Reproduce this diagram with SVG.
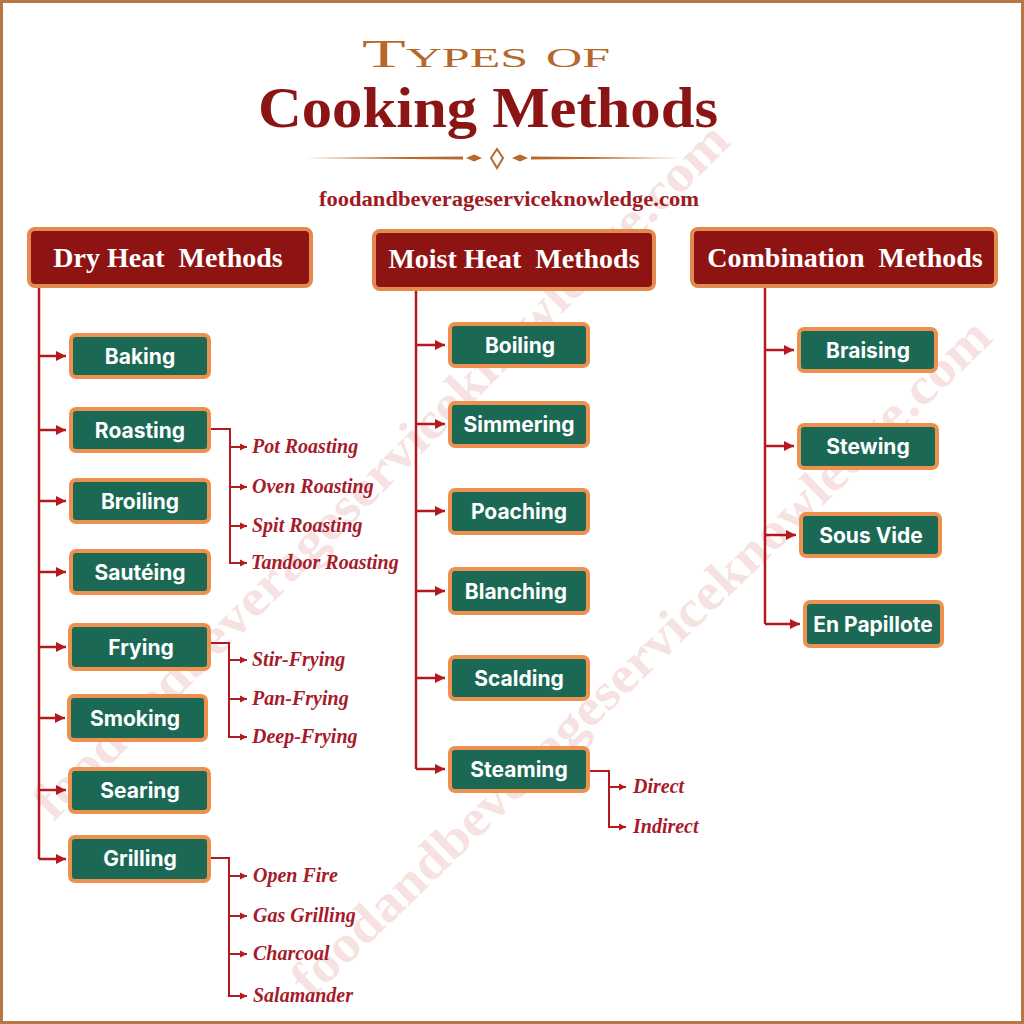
<svg xmlns="http://www.w3.org/2000/svg" width="1024" height="1024" viewBox="0 0 1024 1024">
<defs>
<style>
.hdr rect{fill:#8e1414;stroke:#e38a4f;stroke-width:4}
.hdr text{fill:#fff;font-family:"Liberation Serif",serif;font-weight:bold;font-size:28px;text-anchor:middle;white-space:pre}
.box rect{fill:#1b6955;stroke:#ec9150;stroke-width:4}
.box text{fill:#fff;font-family:Inter,"Open Sans",sans-serif;font-weight:700;font-size:21px;text-anchor:middle}
.sub{fill:#a61b2b;font-family:"Liberation Serif",serif;font-style:italic;font-weight:bold;font-size:20px}
.ln{stroke:#b3191f;stroke-width:2.5;fill:none}
.sl{stroke:#b3191f;stroke-width:2;fill:none}
.wm{fill:#e8a0a0;opacity:0.3;font-family:"Liberation Serif",serif;font-weight:bold;font-size:52px;text-anchor:middle}
</style>
<marker id="ah" markerUnits="userSpaceOnUse" markerWidth="12" markerHeight="12" refX="10" refY="6" orient="auto"><path d="M0,1 L10,6 L0,11 z" fill="#b3191f"/></marker>
<marker id="as" markerUnits="userSpaceOnUse" markerWidth="8" markerHeight="8" refX="7" refY="4" orient="auto"><path d="M0,0.5 L7,4 L0,7.5 z" fill="#b3191f"/></marker>
</defs>
<rect x="0" y="0" width="1024" height="1024" fill="#fff"/>
<g id="watermark">
<text class="wm" x="380" y="488" transform="rotate(-45 380 470)" textLength="960" lengthAdjust="spacingAndGlyphs">foodandbeverageserviceknowledge.com</text>
<text class="wm" x="640" y="675" transform="rotate(-44 640 657)" textLength="950" lengthAdjust="spacingAndGlyphs">foodandbeverageserviceknowledge.com</text>
</g>
<rect x="1.5" y="1.5" width="1021" height="1021" fill="none" stroke="#b57744" stroke-width="3"/>
<g id="title">
<text x="486" y="67" text-anchor="middle" font-family="'Liberation Serif',serif" font-size="40" font-variant="small-caps" fill="#b5682c" textLength="248" lengthAdjust="spacingAndGlyphs">Types of</text>
<text x="488" y="127" text-anchor="middle" font-family="'Liberation Serif',serif" font-weight="bold" font-size="57" fill="#8b1515" textLength="460" lengthAdjust="spacingAndGlyphs">Cooking Methods</text>
<g fill="#b8692b">
<path d="M305,158 L463,156.5 L463,159.5 Z"/>
<path d="M466,158 L474,154.5 L482,158 L474,161.5 Z"/>
<path d="M497,149 L503,158 L497,168 L491,158 Z" fill="none" stroke="#b8692b" stroke-width="2"/>
<path d="M512,158 L520,154.5 L528,158 L520,161.5 Z"/>
<path d="M531,156.5 L680,158 L531,159.5 Z"/>
</g>
<text x="509" y="206" text-anchor="middle" font-family="'Liberation Serif',serif" font-weight="bold" font-size="20" fill="#a01a1f" textLength="380" lengthAdjust="spacingAndGlyphs">foodandbeverageserviceknowledge.com</text>
</g>
<g id="connectors">
<path class="ln" d="M39,288 V859"/>
<path class="ln" d="M39,356 H66" marker-end="url(#ah)"/>
<path class="ln" d="M39,430 H66" marker-end="url(#ah)"/>
<path class="ln" d="M39,501 H66" marker-end="url(#ah)"/>
<path class="ln" d="M39,572 H66" marker-end="url(#ah)"/>
<path class="ln" d="M39,647 H66" marker-end="url(#ah)"/>
<path class="ln" d="M39,718 H65" marker-end="url(#ah)"/>
<path class="ln" d="M39,790 H66" marker-end="url(#ah)"/>
<path class="ln" d="M39,859 H66" marker-end="url(#ah)"/>
<path class="ln" d="M416,290 V769"/>
<path class="ln" d="M416,345 H445" marker-end="url(#ah)"/>
<path class="ln" d="M416,424 H445" marker-end="url(#ah)"/>
<path class="ln" d="M416,511 H445" marker-end="url(#ah)"/>
<path class="ln" d="M416,591 H445" marker-end="url(#ah)"/>
<path class="ln" d="M416,678 H445" marker-end="url(#ah)"/>
<path class="ln" d="M416,769 H445" marker-end="url(#ah)"/>
<path class="ln" d="M765,288 V624"/>
<path class="ln" d="M765,350 H794" marker-end="url(#ah)"/>
<path class="ln" d="M765,446 H794" marker-end="url(#ah)"/>
<path class="ln" d="M765,535 H796" marker-end="url(#ah)"/>
<path class="ln" d="M765,624 H800" marker-end="url(#ah)"/>
<path class="sl" d="M211,429 H230 V563"/>
<path class="sl" d="M230,447 H247" marker-end="url(#as)"/>
<path class="sl" d="M230,487 H247" marker-end="url(#as)"/>
<path class="sl" d="M230,526 H247" marker-end="url(#as)"/>
<path class="sl" d="M229,563 H247" marker-end="url(#as)"/>
<path class="sl" d="M211,643 H229 V737"/>
<path class="sl" d="M229,660 H247" marker-end="url(#as)"/>
<path class="sl" d="M229,699 H247" marker-end="url(#as)"/>
<path class="sl" d="M228,737 H247" marker-end="url(#as)"/>
<path class="sl" d="M211,858 H229 V996"/>
<path class="sl" d="M229,876 H247" marker-end="url(#as)"/>
<path class="sl" d="M229,916 H247" marker-end="url(#as)"/>
<path class="sl" d="M229,954 H247" marker-end="url(#as)"/>
<path class="sl" d="M228,996 H247" marker-end="url(#as)"/>
<path class="sl" d="M590,771 H609 V827"/>
<path class="sl" d="M609,787 H626" marker-end="url(#as)"/>
<path class="sl" d="M608,827 H626" marker-end="url(#as)"/>
</g>
<g id="hdr-dry" class="hdr"><rect x="29" y="229" width="282" height="57" rx="6"/><text x="168" y="267" xml:space="preserve">Dry Heat  Methods</text></g>
<g id="hdr-moist" class="hdr"><rect x="374" y="231" width="280" height="58" rx="6"/><text x="514" y="268" xml:space="preserve">Moist Heat  Methods</text></g>
<g id="hdr-comb" class="hdr"><rect x="692" y="229" width="304" height="57" rx="6"/><text x="845" y="267" xml:space="preserve">Combination  Methods</text></g>
<g id="n-baking" class="box"><rect x="71" y="335" width="138" height="42" rx="5"/><text x="140" y="364">Baking</text></g>
<g id="n-roasting" class="box"><rect x="71" y="409" width="138" height="42" rx="5"/><text x="140" y="438">Roasting</text></g>
<g id="n-broiling" class="box"><rect x="71" y="480" width="138" height="42" rx="5"/><text x="140" y="509">Broiling</text></g>
<g id="n-sauteing" class="box"><rect x="71" y="551" width="138" height="42" rx="5"/><text x="140" y="580">Sautéing</text></g>
<g id="n-frying" class="box"><rect x="70" y="625" width="139" height="44" rx="5"/><text x="141" y="655">Frying</text></g>
<g id="n-smoking" class="box"><rect x="69" y="696" width="137" height="44" rx="5"/><text x="135" y="726">Smoking</text></g>
<g id="n-searing" class="box"><rect x="70" y="769" width="139" height="43" rx="5"/><text x="140" y="798">Searing</text></g>
<g id="n-grilling" class="box"><rect x="70" y="837" width="139" height="44" rx="5"/><text x="140" y="866">Grilling</text></g>
<g id="n-boiling" class="box"><rect x="450" y="324" width="138" height="42" rx="5"/><text x="520" y="353">Boiling</text></g>
<g id="n-simmering" class="box"><rect x="450" y="403" width="138" height="43" rx="5"/><text x="519" y="432">Simmering</text></g>
<g id="n-poaching" class="box"><rect x="450" y="490" width="138" height="43" rx="5"/><text x="519" y="519">Poaching</text></g>
<g id="n-blanching" class="box"><rect x="450" y="569" width="138" height="44" rx="5"/><text x="516" y="599">Blanching</text></g>
<g id="n-scalding" class="box"><rect x="450" y="657" width="138" height="42" rx="5"/><text x="519" y="686">Scalding</text></g>
<g id="n-steaming" class="box"><rect x="450" y="748" width="138" height="43" rx="5"/><text x="519" y="777">Steaming</text></g>
<g id="n-braising" class="box"><rect x="799" y="329" width="137" height="42" rx="5"/><text x="868" y="358">Braising</text></g>
<g id="n-stewing" class="box"><rect x="799" y="425" width="138" height="43" rx="5"/><text x="868" y="454">Stewing</text></g>
<g id="n-sousvide" class="box"><rect x="801" y="514" width="139" height="42" rx="5"/><text x="871" y="543">Sous Vide</text></g>
<g id="n-papillote" class="box"><rect x="805" y="602" width="137" height="44" rx="5"/><text x="873" y="632">En Papillote</text></g>
<g id="subs">
<text class="sub" x="252" y="453">Pot Roasting</text>
<text class="sub" x="252" y="493">Oven Roasting</text>
<text class="sub" x="252" y="532">Spit Roasting</text>
<text class="sub" x="251" y="569">Tandoor Roasting</text>
<text class="sub" x="252" y="666">Stir-Frying</text>
<text class="sub" x="252" y="705">Pan-Frying</text>
<text class="sub" x="252" y="743">Deep-Frying</text>
<text class="sub" x="253" y="882">Open Fire</text>
<text class="sub" x="253" y="922">Gas Grilling</text>
<text class="sub" x="253" y="960">Charcoal</text>
<text class="sub" x="253" y="1002">Salamander</text>
<text class="sub" x="633" y="793">Direct</text>
<text class="sub" x="633" y="833">Indirect</text>
</g>
</svg>
